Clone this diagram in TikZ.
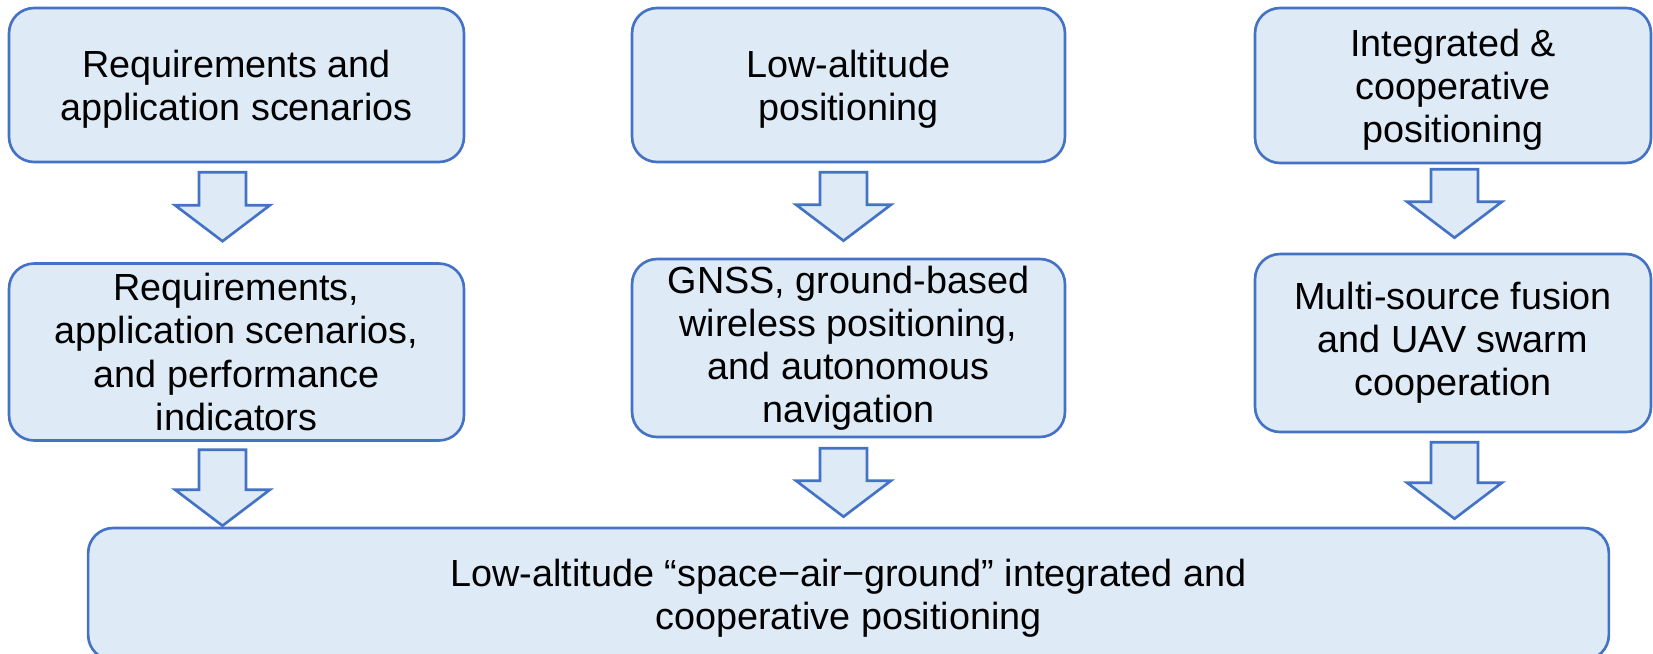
\documentclass[tikz,border=0pt]{standalone}
\usepackage{fontspec}
\setmainfont{Liberation Sans}
\usetikzlibrary{calc}
\definecolor{boxfill}{HTML}{DEEAF6}
\definecolor{boxline}{HTML}{4472C4}
\tikzset{
  box/.style={draw=boxline, fill=boxfill, line width=1.5pt, rounded corners=0.5cm,
    align=center, inner sep=2pt, font=\fontsize{21.5}{24.5}\selectfont},
  lowbox/.style={box, text depth=0pt},
  flowarrow/.style={draw=boxline, fill=boxfill, line width=1.5pt, line join=miter}
}
% block arrow: from, to, x offset, gap at top, gap at tip
\newcommand{\blockarrow}[5]{%
  \coordinate (arrtop) at ($(#1.south)+(#3,#4)$);
  \coordinate (arrtip) at ($(arrtop |- #2.north)+(0,-#5)$);
  \draw[flowarrow] ($(arrtop)+(-23.5,0)$) -- ($(arrtop)+(23.5,0)$) -- ($(arrtip)+(23.5,-36)$)
    -- ($(arrtip)+(47.5,-36)$) -- (arrtip) -- ($(arrtip)+(-47.5,-36)$) -- ($(arrtip)+(-23.5,-36)$) -- cycle;}
\begin{document}
\begin{tikzpicture}[x=0.02cm, y=-0.02cm]
        \useasboundingbox (0,0) rectangle (1653,653);
        \clip (0,0) rectangle (1653,653);
        % top row
        \node[lowbox, minimum width=9.1cm, minimum height=3.08cm] (req) at (236.5,85) {Requirements and\\application scenarios};
        \node[lowbox, minimum width=8.66cm, minimum height=3.08cm] (alt) at (848.5,85) {Low-altitude\\positioning};
        \node[lowbox, minimum width=7.92cm, minimum height=3.1cm] (coop) at (1453,85.5) {Integrated \&\\cooperative\\positioning};
        % middle row
        \node[box, minimum width=9.1cm, minimum height=3.54cm] (perf) at (236.5,352) {Requirements,\\application scenarios,\\and performance\\indicators};
        \node[box, minimum width=8.66cm, minimum height=3.56cm] (gnss) at (848.5,348) {GNSS, ground-based\\wireless positioning,\\and autonomous\\navigation};
        \node[box, minimum width=7.92cm, minimum height=3.56cm] (fusion) at (1453,343) {Multi-source fusion\\and UAV swarm\\cooperation};
        % bottom box
        \node[lowbox, minimum width=30.42cm, minimum height=2.64cm] (final) at (848.5,594) {Low-altitude “space−air−ground” integrated and\\cooperative positioning};
        % arrows
        \blockarrow{req}{perf}{-14}{9}{21}
        \blockarrow{alt}{gnss}{-5}{9}{17}
        \blockarrow{coop}{fusion}{1.5}{5}{15}
        \blockarrow{perf}{final}{-14}{8}{1}
        \blockarrow{gnss}{final}{-5}{10}{10}
        \blockarrow{fusion}{final}{1.5}{9}{8}
    \end{tikzpicture}
\end{document}
